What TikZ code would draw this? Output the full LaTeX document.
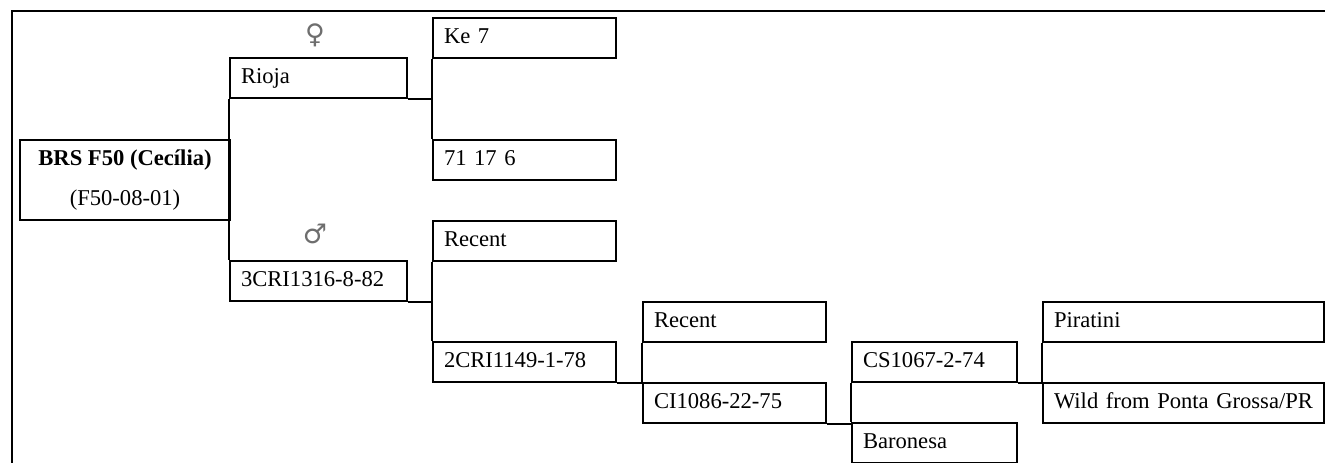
\documentclass[tikz,border=0pt]{standalone}
\usepackage{fontspec}
\setmainfont{Liberation Serif}
\newfontfamily\symfont{DejaVu Sans}
\usepackage{tikz}
\usetikzlibrary{positioning}
\definecolor{symgray}{RGB}{110, 110, 110}

\begin{document}
\begin{tikzpicture}[x=1pt, y=-1pt,
    every node/.style={font=\fontsize{22.6}{27}\selectfont},
    pbox/.style={draw, line width=2pt, rectangle, anchor=north west, minimum height=40pt,
                 inner xsep=11pt, inner ysep=3pt, align=left, text height=16pt, text depth=6pt},
    conn/.style={line width=2pt},
    sexsym/.style={text=symgray, font=\symfont\fontsize{27}{30}\selectfont}]
          \useasboundingbox (0,0) rectangle (1325,463);
          \draw[line width=2.4pt] (12,463) -- (12,11) -- (1325,11);

          % Cultivar
          \node[draw, line width=2pt, anchor=north west, minimum width=210pt, minimum height=80pt,
                align=center, font=\fontsize{22.6}{40}\selectfont] (root) at (19,139)
                {\textbf{BRS F50 (Cecília)}\\(F50-08-01)};

          % Parents
          \node[sexsym] (fem) at (315,35) {♀};
          \node[pbox, text width=155pt] (rioja) at (229,57) {Rioja};
          \node[sexsym] (male) at (315,234) {♂};
          \node[pbox, text width=155pt] (cri3) at (229,260) {3CRI1316-8-82};

          % Grandparents
          \node[pbox, text width=161pt] (ke7) at (432,17) {Ke 7};
          \node[pbox, text width=161pt] (c71) at (432,139) {71 17 6};
          \node[pbox, text width=161pt] (recent1) at (432,220) {Recent};
          \node[pbox, text width=161pt] (cri2) at (432,341) {2CRI1149-1-78};

          % Further back
          \node[pbox, text width=161pt] (recent2) at (642,301) {Recent};
          \node[pbox, text width=161pt] (ci1086) at (642,382) {CI1086-22-75};
          \node[pbox, text width=143pt] (cs1067) at (851,341) {CS1067-2-74};
          \node[pbox, text width=143pt] (baronesa) at (851,422) {Baronesa};
          \node[pbox, text width=259pt] (piratini) at (1042,301) {Piratini};
          \node[pbox, text width=259pt] (wild) at (1042,382) {Wild from Ponta Grossa/PR};

          % Crossing lines
          \draw[conn] (rioja.south west) -- (cri3.north west);
          \draw[conn] (rioja.south east) -- (rioja.south east -| ke7.west);
          \draw[conn] (ke7.south west) -- (c71.north west);
          \draw[conn] (cri3.south east) -- (cri3.south east -| recent1.west);
          \draw[conn] (recent1.south west) -- (cri2.north west);
          \draw[conn] (cri2.south east) -- (cri2.south east -| recent2.west);
          \draw[conn] (recent2.south west) -- (ci1086.north west);
          \draw[conn] (ci1086.south east) -- (ci1086.south east -| cs1067.west);
          \draw[conn] (cs1067.south west) -- (baronesa.north west);
          \draw[conn] (cs1067.south east) -- (cs1067.south east -| piratini.west);
          \draw[conn] (piratini.south west) -- (wild.north west);
        \end{tikzpicture}
\end{document}
